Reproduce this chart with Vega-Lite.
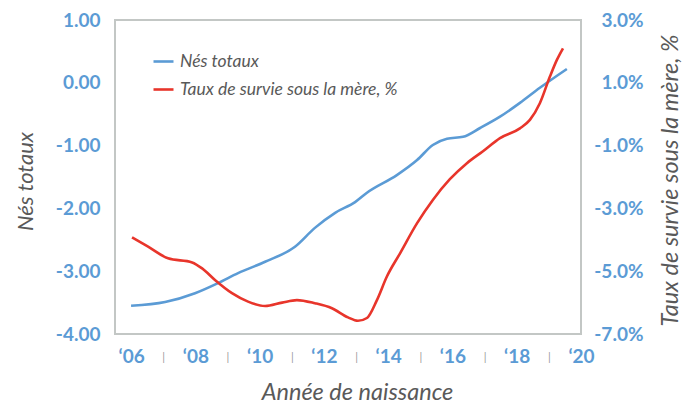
{
  "$schema": "https://vega.github.io/schema/vega-lite/v6.json",
  "width": 466,
  "height": 314,
  "autosize": {"type": "none"},
  "padding": {"left": 115, "top": 20, "right": 113, "bottom": 69},
  "config": {
    "view": {"stroke": "#c3c7c5", "strokeWidth": 2},
    "font": "Lato",
    "axis": {"grid": false, "domain": false, "ticks": false}
  },
  "data": {
    "values": [
      {"series": "Nés totaux", "year": 2006.0, "v": -3.55},
      {"series": "Nés totaux", "year": 2007.06, "v": -3.49},
      {"series": "Nés totaux", "year": 2007.99, "v": -3.35},
      {"series": "Nés totaux", "year": 2008.7, "v": -3.19},
      {"series": "Nés totaux", "year": 2009.33, "v": -3.03},
      {"series": "Nés totaux", "year": 2010.17, "v": -2.85},
      {"series": "Nés totaux", "year": 2011.1, "v": -2.61},
      {"series": "Nés totaux", "year": 2011.72, "v": -2.31},
      {"series": "Nés totaux", "year": 2012.35, "v": -2.07},
      {"series": "Nés totaux", "year": 2012.97, "v": -1.9},
      {"series": "Nés totaux", "year": 2013.34, "v": -1.75},
      {"series": "Nés totaux", "year": 2014.27, "v": -1.47},
      {"series": "Nés totaux", "year": 2014.9, "v": -1.23},
      {"series": "Nés totaux", "year": 2015.39, "v": -0.99},
      {"series": "Nés totaux", "year": 2015.83, "v": -0.89},
      {"series": "Nés totaux", "year": 2016.33, "v": -0.86},
      {"series": "Nés totaux", "year": 2016.86, "v": -0.72},
      {"series": "Nés totaux", "year": 2017.48, "v": -0.54},
      {"series": "Nés totaux", "year": 2018.1, "v": -0.32},
      {"series": "Nés totaux", "year": 2018.72, "v": -0.08},
      {"series": "Nés totaux", "year": 2019.56, "v": 0.22},
      {"series": "Taux de survie sous la mère, %", "year": 2006.03, "v": -3.92},
      {"series": "Taux de survie sous la mère, %", "year": 2006.53, "v": -4.22},
      {"series": "Taux de survie sous la mère, %", "year": 2007.15, "v": -4.59},
      {"series": "Taux de survie sous la mère, %", "year": 2007.9, "v": -4.72},
      {"series": "Taux de survie sous la mère, %", "year": 2008.21, "v": -4.91},
      {"series": "Taux de survie sous la mère, %", "year": 2008.61, "v": -5.28},
      {"series": "Taux de survie sous la mère, %", "year": 2009.14, "v": -5.7},
      {"series": "Taux de survie sous la mère, %", "year": 2009.64, "v": -5.97},
      {"series": "Taux de survie sous la mère, %", "year": 2010.17, "v": -6.11},
      {"series": "Taux de survie sous la mère, %", "year": 2010.7, "v": -6.0},
      {"series": "Taux de survie sous la mère, %", "year": 2011.16, "v": -5.92},
      {"series": "Taux de survie sous la mère, %", "year": 2011.72, "v": -6.02},
      {"series": "Taux de survie sous la mère, %", "year": 2012.25, "v": -6.18},
      {"series": "Taux de survie sous la mère, %", "year": 2012.75, "v": -6.47},
      {"series": "Taux de survie sous la mère, %", "year": 2013.06, "v": -6.58},
      {"series": "Taux de survie sous la mère, %", "year": 2013.34, "v": -6.49},
      {"series": "Taux de survie sous la mère, %", "year": 2013.65, "v": -5.92},
      {"series": "Taux de survie sous la mère, %", "year": 2013.96, "v": -5.17},
      {"series": "Taux de survie sous la mère, %", "year": 2014.37, "v": -4.43},
      {"series": "Taux de survie sous la mère, %", "year": 2014.9, "v": -3.47},
      {"series": "Taux de survie sous la mère, %", "year": 2015.39, "v": -2.73},
      {"series": "Taux de survie sous la mère, %", "year": 2015.92, "v": -2.07},
      {"series": "Taux de survie sous la mère, %", "year": 2016.45, "v": -1.56},
      {"series": "Taux de survie sous la mère, %", "year": 2016.95, "v": -1.18},
      {"series": "Taux de survie sous la mère, %", "year": 2017.48, "v": -0.76},
      {"series": "Taux de survie sous la mère, %", "year": 2018.1, "v": -0.45},
      {"series": "Taux de survie sous la mère, %", "year": 2018.41, "v": -0.18},
      {"series": "Taux de survie sous la mère, %", "year": 2018.72, "v": 0.35},
      {"series": "Taux de survie sous la mère, %", "year": 2019.03, "v": 1.19},
      {"series": "Taux de survie sous la mère, %", "year": 2019.25, "v": 1.73},
      {"series": "Taux de survie sous la mère, %", "year": 2019.44, "v": 2.1}
    ]
  },
  "encoding": {
    "x": {
      "field": "year",
      "type": "quantitative",
      "scale": {"domain": [2005.5, 2020], "nice": false, "zero": false},
      "axis": {
        "title": "Année de naissance",
        "titleFont": "Lato",
        "titleFontSize": 23.5,
        "titleFontStyle": "italic",
        "titleFontWeight": "normal",
        "titleColor": "#595959",
        "titleX": 242,
        "titleY": 65,
        "titleAnchor": null,
        "titleAlign": "center",
        "titleBaseline": "alphabetic",
        "values": [2006, 2007, 2008, 2009, 2010, 2011, 2012, 2013, 2014, 2015, 2016, 2017, 2018, 2019, 2020],
        "labelExpr": "datum.value % 2 == 0 ? '‘' + substring(toString(datum.value), 2, 4) : '|'",
        "labelFontSize": {"condition": {"test": "datum.value % 2 == 0", "value": 19}, "value": 11},
        "labelFontWeight": {"condition": {"test": "datum.value % 2 == 0", "value": "bold"}, "value": "normal"},
        "labelColor": {"condition": {"test": "datum.value % 2 == 0", "value": "#5b9bd5"}, "value": "#9a9a9a"},
        "labelPadding": {"condition": {"test": "datum.value % 2 == 0", "value": 13}, "value": 17},
        "labelBaseline": "top",
        "labelOverlap": false,
        "labelFlush": false
      }
    }
  },
  "layer": [
    {
      "transform": [{"filter": "datum.series == 'Nés totaux'"}],
      "mark": {"type": "line", "interpolate": "monotone", "strokeWidth": 2.6},
      "encoding": {
        "y": {
          "field": "v",
          "type": "quantitative",
          "scale": {"domain": [-4, 1], "nice": false, "zero": false},
          "axis": {
            "orient": "left",
            "values": [-4, -3, -2, -1, 0, 1],
            "labelExpr": "replace(format(datum.value, '.2f'), '−', '-')",
            "labelFontSize": 19,
            "labelFontWeight": "bold",
            "labelColor": "#5b9bd5",
            "labelPadding": 15,
            "title": "Nés totaux",
            "titleFontSize": 22,
            "titleFontStyle": "italic",
            "titleFontWeight": "normal",
            "titleColor": "#595959",
            "titleAngle": 270,
            "titleX": -83,
            "titleY": 161,
            "titleAlign": "center",
            "titleBaseline": "alphabetic"
          }
        },
        "color": {
          "field": "series",
          "type": "nominal",
          "scale": {"domain": ["Nés totaux", "Taux de survie sous la mère, %"], "range": ["#5b9bd5", "#e8352b"]},
          "legend": {
            "title": null,
            "orient": "none",
            "legendX": 37,
            "legendY": 30,
            "padding": 0,
            "symbolType": "stroke",
            "symbolSize": 400,
            "symbolStrokeWidth": 2.6,
            "labelFont": "Lato",
            "labelFontSize": 17.5,
            "labelFontStyle": "italic",
            "labelColor": "#595959",
            "labelOffset": 5,
            "rowPadding": 8,
            "labelLimit": 400
          }
        }
      }
    },
    {
      "transform": [{"filter": "datum.series != 'Nés totaux'"}],
      "mark": {"type": "line", "interpolate": "monotone", "strokeWidth": 2.6},
      "encoding": {
        "y": {
          "field": "v",
          "type": "quantitative",
          "scale": {"domain": [-7, 3], "nice": false, "zero": false},
          "axis": {
            "orient": "right",
            "values": [-7, -5, -3, -1, 1, 3],
            "labelExpr": "replace(format(datum.value, '.1f'), '−', '-') + '%'",
            "labelFontSize": 19,
            "labelFontWeight": "bold",
            "labelColor": "#5b9bd5",
            "labelAlign": "right",
            "labelPadding": 62,
            "title": "Taux de survie sous la mère, %",
            "titleFontSize": 23.5,
            "titleFontStyle": "italic",
            "titleFontWeight": "normal",
            "titleColor": "#595959",
            "titleAngle": 270,
            "titleX": 96,
            "titleY": 160,
            "titleAlign": "center",
            "titleBaseline": "alphabetic"
          }
        },
        "color": {"field": "series", "type": "nominal", "legend": null}
      }
    }
  ],
  "resolve": {"scale": {"y": "independent"}}
}
